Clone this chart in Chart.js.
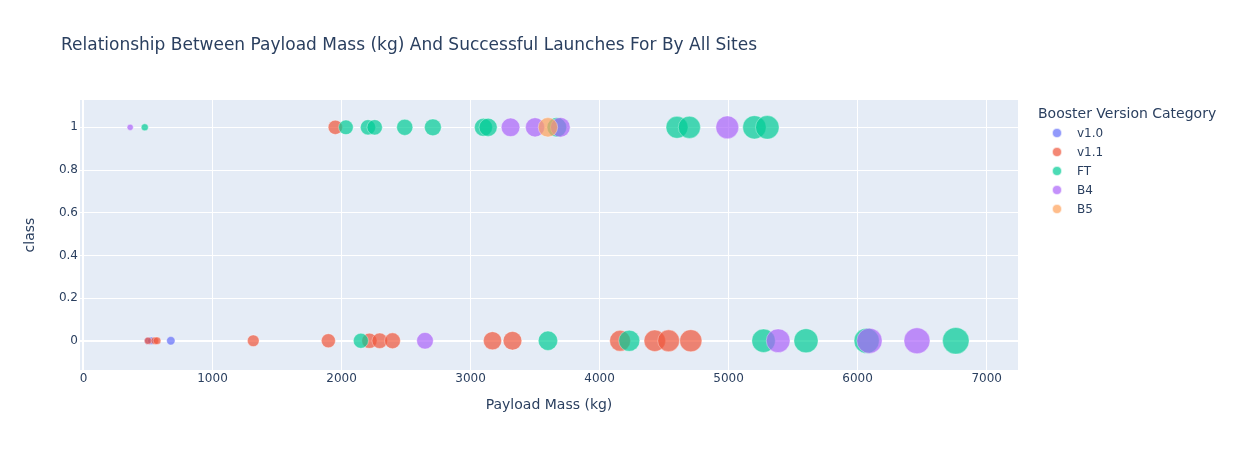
<!DOCTYPE html>
<html><head><meta charset="utf-8">
<script src="https://cdn.jsdelivr.net/npm/chart.js@4"></script>
<style>
html,body{margin:0;padding:0;background:#fff;}
#wrap{position:relative;width:1233px;height:450px;font-family:'DejaVu Sans',Verdana,sans-serif;color:#2a3f5f;overflow:hidden;}
canvas{position:absolute;left:0;top:0;}
.t{position:absolute;white-space:nowrap;}
.dot{position:absolute;width:10px;height:10px;border-radius:50%;box-sizing:border-box;border:0.5px solid rgba(255,255,255,0.7);}
</style></head><body>
<div id="wrap">
<canvas id="c" width="1233" height="450"></canvas>
<div class="t" id="title" style="left:61px;top:32px;font-size:17px;line-height:24px;">Relationship Between Payload Mass (kg) And Successful Launches For By All Sites</div>
<div id="legend"></div>
</div>
<script>
// ---- data ----
const categories = ['v1.0', 'v1.1', 'FT', 'B4', 'B5'];
const payloadV10 = [500, 525, 677];
const classV10   = [0, 0, 0];
const payloadV11 = [500, 553, 570, 1316, 1898, 1952, 2216, 2296, 2395, 3170, 3325, 4159, 4428, 4535, 4707];
const classV11   = [0, 0, 0, 0, 0, 1, 0, 0, 0, 0, 0, 0, 0, 0, 0];
const payloadFT  = [475, 2034, 2150, 2205, 2257, 2490, 2708, 3100, 3136, 3600, 3669, 4230, 4600, 4696, 5200, 5271, 5300, 5600, 6070, 6761];
const classFT    = [1, 1, 0, 1, 1, 1, 1, 1, 1, 0, 1, 0, 1, 1, 1, 0, 1, 0, 0, 0];
const payloadB4  = [362, 2647, 3310, 3500, 3696, 4990, 5384, 6092, 6460];
const classB4    = [1, 0, 1, 1, 1, 1, 0, 0, 0];
const payloadB5  = [3600];
const classB5    = [1];
const xTicks = [0, 1000, 2000, 3000, 4000, 5000, 6000, 7000];
const yTicks = [0, 0.2, 0.4, 0.6, 0.8, 1];

// ---- styling ----
const palette = ['rgba(99,110,250,0.7)', 'rgba(239,85,59,0.7)', 'rgba(0,204,150,0.7)', 'rgba(171,99,250,0.7)', 'rgba(255,161,90,0.7)'];
const TXT = '#2a3f5f';
const RK = 0.1617; // bubble radius per sqrt(kg)

const seriesPayload = [payloadV10, payloadV11, payloadFT, payloadB4, payloadB5];
const seriesClass = [classV10, classV11, classFT, classB4, classB5];

const datasets = categories.map((name, i) => ({
  label: name,
  data: seriesPayload[i].map((p, j) => ({x: p, y: seriesClass[i][j]})),
  pointBackgroundColor: palette[i],
  pointBorderColor: 'rgba(255,255,255,0.7)',
  pointBorderWidth: 0.5,
  pointRadius: ctx => (ctx.raw ? RK * Math.sqrt(ctx.raw.x) : 0),
  order: categories.length - i
}));

const bgPlugin = {
  id: 'bg',
  beforeDraw(chart) {
    const {ctx, chartArea: a} = chart;
    ctx.save();
    ctx.fillStyle = '#E5ECF6';
    ctx.fillRect(a.left, a.top, a.right - a.left, a.bottom - a.top);
    ctx.restore();
  }
};

Chart.defaults.font.family = "'DejaVu Sans', Verdana, sans-serif";
Chart.defaults.color = TXT;

new Chart(document.getElementById('c'), {
  type: 'scatter',
  data: {datasets},
  plugins: [bgPlugin],
  options: {
    responsive: false,
    animation: false,
    devicePixelRatio: 1,
    events: [],
    layout: {padding: {left: 0, top: 100, right: 215, bottom: 0}},
    plugins: {legend: {display: false}, tooltip: {enabled: false}, title: {display: false}},
    scales: {
      x: {
        type: 'linear', min: -27, max: 7243,
        afterBuildTicks: s => { s.ticks = xTicks.map(v => ({value: v})); },
        afterFit: s => { s.height = 80; },
        ticks: {font: {size: 12}, color: TXT, padding: 2, maxRotation: 0, autoSkip: false, callback: v => String(v)},
        grid: {color: '#ffffff', lineWidth: c => (c.tick && c.tick.value === 0 ? 2 : 1), drawTicks: false},
        border: {display: false},
        title: {display: true, text: 'Payload Mass (kg)', font: {size: 14}, color: TXT, padding: {top: 0, bottom: 36.6}}
      },
      y: {
        type: 'linear', min: -0.137, max: 1.128,
        afterBuildTicks: s => { s.ticks = yTicks.map(v => ({value: v})); },
        afterFit: s => { s.width = 80; },
        ticks: {font: {size: 12}, color: TXT, padding: 2, autoSkip: false, callback: v => String(v)},
        grid: {color: '#ffffff', lineWidth: c => (c.tick && c.tick.value === 0 ? 2 : 1), drawTicks: false},
        border: {display: false},
        title: {display: true, text: 'class', font: {size: 14}, color: TXT, padding: {top: 21.6, bottom: 0}}
      }
    }
  }
});

// ---- legend (HTML) ----
const lg = document.getElementById('legend');
let html = '<div class="t" style="left:1038px;top:103px;font-size:14px;line-height:20px;">Booster Version Category</div>';
categories.forEach((name, i) => {
  const top = 123 + i * 19;
  html += `<div class="dot" style="left:${1052}px;top:${top + 5}px;background:${palette[i]};"></div>`;
  html += `<div class="t" style="left:1077px;top:${top}px;font-size:12px;line-height:20px;">${name}</div>`;
});
lg.innerHTML = html;
</script>
</body></html>
